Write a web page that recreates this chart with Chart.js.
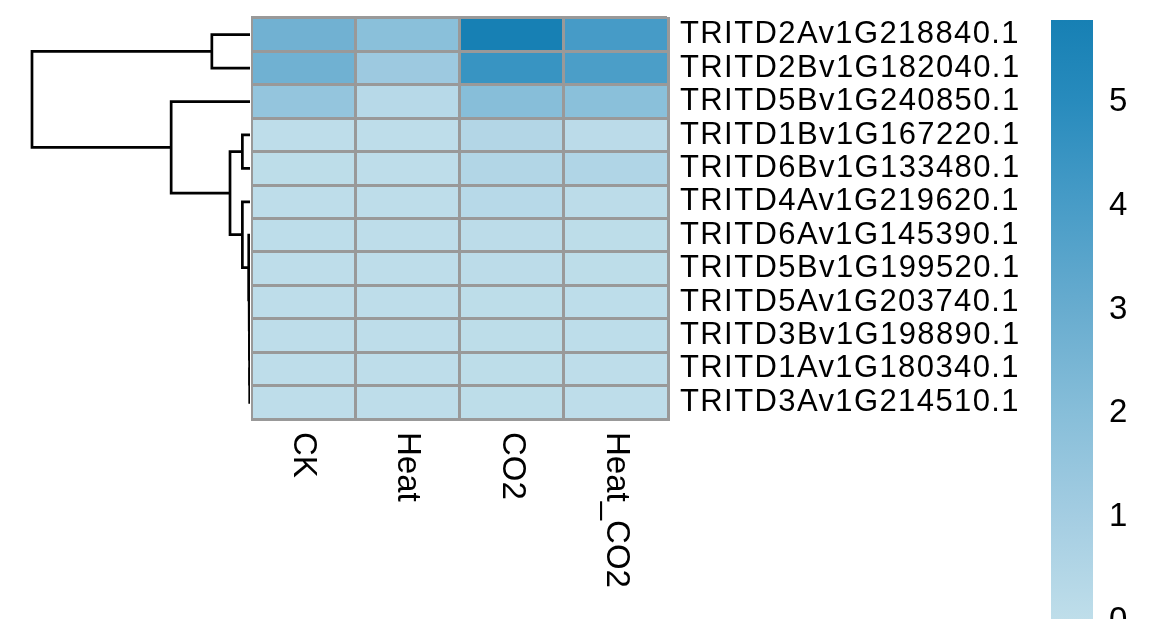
<!DOCTYPE html>
<html>
<head>
<meta charset="utf-8">
<title>Heatmap</title>
<script src="https://cdn.jsdelivr.net/npm/chart.js@4.4.1/dist/chart.umd.min.js"></script>
<style>
  html, body { margin: 0; padding: 0; background: #fff; overflow: hidden; }
  body { width: 1170px; height: 619px; position: relative; }
  .box { position: absolute; }
</style>
</head>
<body>
<div class="box" style="left:22px; top:0; width:228px; height:430px;"><canvas id="dendro"></canvas></div>
<div class="box" style="left:251px; top:0; width:777px; height:619px;"><canvas id="heat"></canvas></div>
<div class="box" style="left:1040px; top:0; width:130px; height:660px;"><canvas id="legend"></canvas></div>
<script>
// rows, top to bottom (dendrogram order)
const genes = [
  'TRITD2Av1G218840.1', 'TRITD2Bv1G182040.1', 'TRITD5Bv1G240850.1', 'TRITD1Bv1G167220.1',
  'TRITD6Bv1G133480.1', 'TRITD4Av1G219620.1', 'TRITD6Av1G145390.1', 'TRITD5Bv1G199520.1',
  'TRITD5Av1G203740.1', 'TRITD3Bv1G198890.1', 'TRITD1Av1G180340.1', 'TRITD3Av1G214510.1'
];
const conditions = ['CK', 'Heat', 'CO2', 'Heat_CO2'];

// expression per condition, one value per gene
const ck      = [2.7, 2.75, 1.55, 0.05, 0.08, 0.05, 0.06, 0.05, 0.04, 0.05, 0.04, 0.05];
const heat    = [1.9, 1.25, 0.3, 0.05, 0.05, 0.05, 0.05, 0.04, 0.04, 0.05, 0.04, 0.04];
const co2     = [5.79, 4.5, 2.0, 0.45, 0.5, 0.3, 0.12, 0.1, 0.08, 0.08, 0.07, 0.07];
const heatCo2 = [4.05, 3.9, 1.9, 0.15, 0.55, 0.1, 0.08, 0.07, 0.06, 0.06, 0.05, 0.05];

// row clustering, hclust style: negative = leaf (-1 is first row), positive = earlier merge
const mergeLeft   = [-11, -10, -9, -8, -7, -6, -4, 7, -3, -1, 10];
const mergeRight  = [-12, 1, 2, 3, 4, 5, -5, 6, 8, -2, 9];
const mergeHeight = [0.008, 0.012, 0.018, 0.025, 0.035, 0.21, 0.21, 0.55, 2.17, 1.05, 6.0];

// colour scale
const legendTicks = [0, 1, 2, 3, 4, 5];
const legendMax = 5.79;
const paletteStops  = [0, 1, 2, 3, 4, 5, 5.79];
const paletteColors = [
  [191, 222, 234], [164, 205, 226], [135, 190, 217], [104, 172, 207],
  [72, 156, 199], [40, 139, 189], [23, 128, 180]
];

const FONT = '"Liberation Sans", Arial, sans-serif';

function rgb(c) {
  return 'rgb(' + c.map(v => Math.round(v)).join(',') + ')';
}

function colorFor(v) {
  if (v <= paletteStops[0]) return rgb(paletteColors[0]);
  for (let k = 1; k < paletteStops.length; k++) {
    if (v <= paletteStops[k]) {
      const t = (v - paletteStops[k - 1]) / (paletteStops[k] - paletteStops[k - 1]);
      const a = paletteColors[k - 1], b = paletteColors[k];
      return rgb(a.map((x, i) => x + (b[i] - x) * t));
    }
  }
  return rgb(paletteColors[paletteColors.length - 1]);
}

// ------------------------------
// Dendrogram
const nodePos = [];
const nodeH = [];
function childInfo(id) {
  if (id < 0) return { y: -id - 1 + 0.5, h: 0 };
  return { y: nodePos[id - 1], h: nodeH[id - 1] };
}
const dendroSets = mergeLeft.map((l, m) => {
  const a = childInfo(l), b = childInfo(mergeRight[m]);
  const h = mergeHeight[m];
  nodePos[m] = (a.y + b.y) / 2;
  nodeH[m] = h;
  return {
    data: [{ x: a.h, y: a.y }, { x: h, y: a.y }, { x: h, y: b.y }, { x: b.h, y: b.y }],
    showLine: true,
    borderColor: '#000',
    borderWidth: 2.7,
    borderJoinStyle: 'miter',
    pointRadius: 0,
    clip: false
  };
});

new Chart(document.getElementById('dendro'), {
  type: 'scatter',
  data: { datasets: dendroSets },
  options: {
    responsive: true,
    maintainAspectRatio: false,
    animation: false,
    layout: { padding: { left: 10, top: 18, right: 0, bottom: 11 } },
    plugins: { legend: { display: false }, tooltip: { enabled: false } },
    scales: {
      x: { type: 'linear', display: false, reverse: true, min: 0, max: mergeHeight[mergeHeight.length - 1] },
      y: { type: 'linear', display: false, reverse: true, min: 0, max: genes.length }
    }
  }
});

// ------------------------------
// Heatmap cells as floating horizontal bars
const columns = [ck, heat, co2, heatCo2];

const colLabelPlugin = {
  id: 'colLabelPlugin',
  beforeDraw(chart) {
    chart.ctx.letterSpacing = '1.4px';
  },
  afterDraw(chart) {
    const { ctx, chartArea, scales } = chart;
    ctx.letterSpacing = '0px';
    ctx.save();
    ctx.font = '33px ' + FONT;
    ctx.fillStyle = '#000';
    ctx.textAlign = 'left';
    ctx.textBaseline = 'middle';
    conditions.forEach((name, j) => {
      const x = scales.x.getPixelForValue(j + 0.5);
      ctx.save();
      ctx.translate(x, chartArea.bottom + 13);
      ctx.rotate(Math.PI / 2);
      ctx.fillText(name, 0, 0);
      ctx.restore();
    });
    ctx.restore();
  }
};

new Chart(document.getElementById('heat'), {
  type: 'bar',
  data: {
    labels: genes,
    datasets: columns.map((vals, j) => ({
      label: conditions[j],
      data: vals.map(() => [j, j + 1]),
      backgroundColor: vals.map(colorFor),
      borderWidth: 0,
      barPercentage: 1,
      categoryPercentage: 1
    }))
  },
  options: {
    indexAxis: 'y',
    responsive: true,
    maintainAspectRatio: false,
    animation: false,
    layout: { padding: { left: 0, top: 18, right: 0, bottom: 200 } },
    plugins: { legend: { display: false }, tooltip: { enabled: false } },
    scales: {
      x: {
        type: 'linear', min: 0, max: conditions.length,
        ticks: { display: false, stepSize: 1 },
        grid: { color: '#999999', lineWidth: 3, drawTicks: false, z: 1 },
        border: { color: '#999999', width: 3, z: 1 }
      },
      y: {
        type: 'category', position: 'right', offset: true, stacked: true,
        grid: { offset: true, color: '#999999', lineWidth: 3, drawTicks: false, z: 1 },
        border: { color: '#999999', width: 3, z: 1 },
        ticks: { color: '#000', padding: 12, autoSkip: false, font: { size: 31, family: FONT } },
        afterFit(scale) {
          scale.width = 360;
          scale.paddingTop = 0;
          scale.paddingBottom = 0;
        }
      }
    }
  },
  plugins: [colLabelPlugin]
});

// ------------------------------
// Colour key
new Chart(document.getElementById('legend'), {
  type: 'bar',
  data: {
    labels: [''],
    datasets: [{
      data: [[0, legendMax]],
      borderWidth: 0,
      barPercentage: 1,
      categoryPercentage: 1,
      backgroundColor(c) {
        const chart = c.chart;
        if (!chart.chartArea) return rgb(paletteColors[0]);
        const y = chart.scales.y;
        const g = chart.ctx.createLinearGradient(0, y.getPixelForValue(0), 0, y.getPixelForValue(legendMax));
        paletteStops.forEach((v, k) => g.addColorStop(v / legendMax, rgb(paletteColors[k])));
        return g;
      }
    }]
  },
  options: {
    responsive: true,
    maintainAspectRatio: false,
    animation: false,
    layout: { padding: { left: 11, top: 20, right: 0, bottom: 39 } },
    plugins: { legend: { display: false }, tooltip: { enabled: false } },
    scales: {
      x: { display: false },
      y: {
        position: 'right', min: 0, max: legendMax,
        grid: { display: false, drawTicks: false },
        border: { display: false },
        afterBuildTicks(scale) { scale.ticks = legendTicks.map(v => ({ value: v })); },
        ticks: { color: '#000', padding: 16, font: { size: 33, family: FONT } },
        afterFit(scale) {
          scale.width = 77;
          scale.paddingTop = 0;
          scale.paddingBottom = 0;
        }
      }
    }
  }
});
</script>
</body>
</html>
